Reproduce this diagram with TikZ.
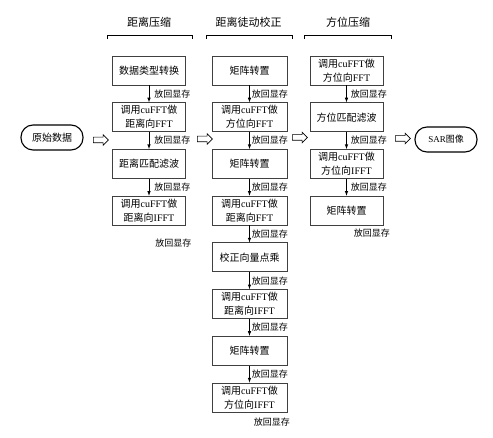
\documentclass[tikz,border=0pt]{standalone}
\usepackage{fontspec}
\setmainfont{Noto Sans CJK SC}
\newfontfamily\latin{Liberation Serif}
\usetikzlibrary{positioning, arrows, shapes.arrows}

\tikzset{
  stepbox/.style={draw=black!75, line width=0.7pt, minimum width=73pt, minimum height=29pt, inner sep=1pt, align=center, font=\fontsize{10}{14}\selectfont},
  terminal/.style={draw, line width=1.1pt, rounded corners=12pt, minimum width=62pt, minimum height=25pt, font=\fontsize{10}{12}\selectfont},
  memo/.style={font=\fontsize{9}{10}\selectfont, inner sep=1pt},
  header/.style={font=\fontsize{11}{13}\selectfont},
  hollow/.style={single arrow, draw, line width=0.6pt, minimum height=15pt, inner sep=2.5pt, single arrow head extend=2.5pt}
}

\begin{document}
\begin{tikzpicture}[->, >=latex, x=1pt, y=-1pt, line width=0.6pt]
	\useasboundingbox (0,0) rectangle (493,438);

	\node[header] (t1) at (149,22) {距离压缩};
	\node[header] (t2) at (248.5,22) {距离徒动校正};
	\node[header] (t3) at (348,22) {方位压缩};
	\draw[-] (107,39) -- (107,35) -- (192,35) -- (192,39);
	\draw[-] (206,39) -- (206,35) -- (292,35) -- (292,39);
	\draw[-] (304,39) -- (304,35) -- (391,35) -- (391,39);

	\node[terminal] (src) at (52,137.5) {原始数据};
	\node[hollow] (h0) at (99.5,140) {};

	% colonne 1
	\node[stepbox] (b11) at (149,70.5) {数据类型转换};
	\node[stepbox, below = 17pt of b11] (b12) {调用{\latin cuFFT}做\\距离向{\latin FFT}};
	\node[stepbox, below = 17pt of b12] (b13) {距离匹配滤波};
	\node[stepbox, below = 17pt of b13] (b14) {调用{\latin cuFFT}做\\距离向{\latin IFFT}};
	\draw (b11) -- node[memo, right, xshift=4pt] {放回显存} (b12);
	\draw (b12) -- node[memo, right, xshift=4pt] {放回显存} (b13);
	\draw (b13) -- node[memo, right, xshift=4pt] {放回显存} (b14);
	\node[memo, below right = 12pt and 5pt of b14.south] (m14) {放回显存};

	\node[hollow] (h1) at (203.5,139) {};

	% colonne 2
	\node[stepbox, minimum width=75pt] (b21) at (249.5,70.5) {矩阵转置};
	\node[stepbox, minimum width=75pt, below = 17pt of b21] (b22) {调用{\latin cuFFT}做\\方位向{\latin FFT}};
	\node[stepbox, minimum width=75pt, below = 17pt of b22] (b23) {矩阵转置};
	\node[stepbox, minimum width=75pt, below = 17pt of b23] (b24) {调用{\latin cuFFT}做\\距离向{\latin FFT}};
	\node[stepbox, minimum width=75pt, below = 17pt of b24] (b25) {校正向量点乘};
	\node[stepbox, minimum width=75pt, below = 17pt of b25] (b26) {调用{\latin cuFFT}做\\距离向{\latin IFFT}};
	\node[stepbox, minimum width=75pt, below = 17pt of b26] (b27) {矩阵转置};
	\node[stepbox, minimum width=75pt, below = 17pt of b27] (b28) {调用{\latin cuFFT}做\\方位向{\latin IFFT}};
	\draw (b21) -- node[memo, right, xshift=1pt] {放回显存} (b22);
	\draw (b22) -- node[memo, right, xshift=1pt] {放回显存} (b23);
	\draw (b23) -- node[memo, right, xshift=1pt] {放回显存} (b24);
	\draw (b24) -- node[memo, right, xshift=1pt] {放回显存} (b25);
	\draw (b25) -- node[memo, right, xshift=1pt] {放回显存} (b26);
	\draw (b26) -- node[memo, right, xshift=1pt] {放回显存} (b27);
	\draw (b27) -- node[memo, right, xshift=1pt] {放回显存} (b28);
	\node[memo, below right = 4pt and 3pt of b28.south] (m28) {放回显存};

	\node[hollow] (h2) at (298.5,137.5) {};

	% colonne 3
	\node[stepbox] (b31) at (346.5,70.5) {调用{\latin cuFFT}做\\方位向{\latin FFT}};
	\node[stepbox, below = 17pt of b31] (b32) {方位匹配滤波};
	\node[stepbox, below = 17pt of b32] (b33) {调用{\latin cuFFT}做\\方位向{\latin IFFT}};
	\node[stepbox, below = 17pt of b33] (b34) {矩阵转置};
	\draw (b31) -- node[memo, right, xshift=3pt] {放回显存} (b32);
	\draw (b32) -- node[memo, right, xshift=3pt] {放回显存} (b33);
	\draw (b33) -- node[memo, right, xshift=3pt] {放回显存} (b34);
	\node[memo, below right = 2pt and 6pt of b34.south] (m34) {放回显存};

	\node[hollow] (h3) at (401.5,138.5) {};
	\node[terminal, font=\fontsize{9}{11}\selectfont] (dst) at (446,139.5) {{\latin SAR}图像};

\end{tikzpicture}
\end{document}
